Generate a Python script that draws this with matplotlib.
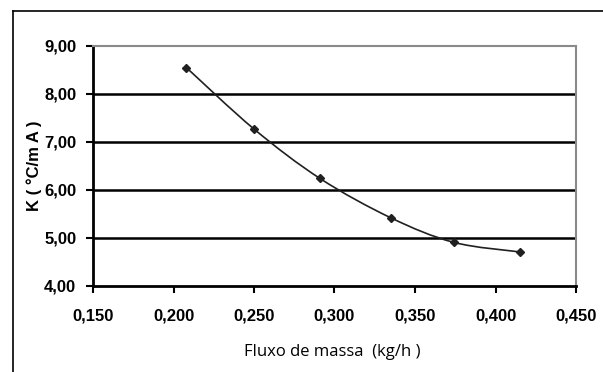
import matplotlib.pyplot as plt
import matplotlib.ticker as mticker
from matplotlib.path import Path
from matplotlib.patches import PathPatch
from matplotlib.lines import Line2D
import numpy as np

# data
mass_flow = [0.208, 0.250, 0.291, 0.335, 0.374, 0.415]
k_values = [8.55, 7.27, 6.24, 5.42, 4.91, 4.71]
x_ticks = [0.150, 0.200, 0.250, 0.300, 0.350, 0.400, 0.450]
y_ticks = [4.0, 5.0, 6.0, 7.0, 8.0, 9.0]

tick_font = ["Liberation Sans", "DejaVu Sans"]


def smooth_path(xs, ys, tension=1.0 / 6):
    """Catmull-Rom style bezier through the points (like a smoothed Excel line)."""
    pts = np.column_stack([xs, ys])
    verts = [pts[0]]
    codes = [Path.MOVETO]
    n = len(pts)
    for i in range(n - 1):
        p0 = pts[i - 1] if i > 0 else pts[i]
        p1 = pts[i]
        p2 = pts[i + 1]
        p3 = pts[i + 2] if i + 2 < n else pts[i + 1]
        c1 = p1 + (p2 - p0) * tension
        c2 = p2 - (p3 - p1) * tension
        verts += [c1, c2, p2]
        codes += [Path.CURVE4] * 3
    return Path(verts, codes)


fig = plt.figure(figsize=(6.03, 3.72), dpi=100)
ax = fig.add_axes([93 / 603, 1 - 286 / 372, (576 - 93) / 603, (286 - 46) / 372])

ax.set_xlim(x_ticks[0], x_ticks[-1])
ax.set_ylim(y_ticks[0], y_ticks[-1])

# horizontal grid lines
for y in y_ticks[1:-1]:
    ax.axhline(y, color="black", linewidth=1.8, zorder=1)

# smoothed curve + markers
ax.add_patch(PathPatch(smooth_path(mass_flow, k_values), facecolor="none",
                       edgecolor="#202020", linewidth=1.2, zorder=3))
ax.plot(mass_flow, k_values, linestyle="none", marker="D", markersize=4,
        color="#202020", zorder=4)

ax.set_xticks(x_ticks)
ax.set_yticks(y_ticks)
ax.xaxis.set_major_formatter(mticker.FuncFormatter(lambda v, p: f"{v:.3f}".replace(".", ",")))
ax.yaxis.set_major_formatter(mticker.FuncFormatter(lambda v, p: f"{v:.2f}".replace(".", ",")))
ax.tick_params(axis="both", direction="out", length=5, width=1.5, color="black",
               labelsize=12)
ax.tick_params(axis="x", pad=11)
ax.tick_params(axis="y", pad=7)
for lab in ax.get_xticklabels() + ax.get_yticklabels():
    lab.set_family(tick_font)
    lab.set_fontweight("bold")

for side in ["left", "bottom"]:
    ax.spines[side].set_linewidth(2)
    ax.spines[side].set_color("black")
for side in ["top", "right"]:
    ax.spines[side].set_linewidth(1.5)
    ax.spines[side].set_color("#8a8a8a")

fig.text(34 / 603, 1 - 166 / 372, "K ( °C/m A )", rotation=90, ha="center", va="center",
         fontsize=12, family=tick_font, fontweight="bold")
fig.text(332 / 603, 1 - 352 / 372, "Fluxo de massa  (kg/h )", ha="center", va="center",
         fontsize=12, family=["Open Sans", "DejaVu Sans"])

# outer frame (top and left only)
fig.add_artist(Line2D([13 / 603, 1], [1 - 11 / 372, 1 - 11 / 372], color="black",
                      linewidth=1.2, transform=fig.transFigure))
fig.add_artist(Line2D([13 / 603, 13 / 603], [0, 1 - 11 / 372], color="black",
                      linewidth=1.2, transform=fig.transFigure))

fig.savefig("out.png", dpi=100)
